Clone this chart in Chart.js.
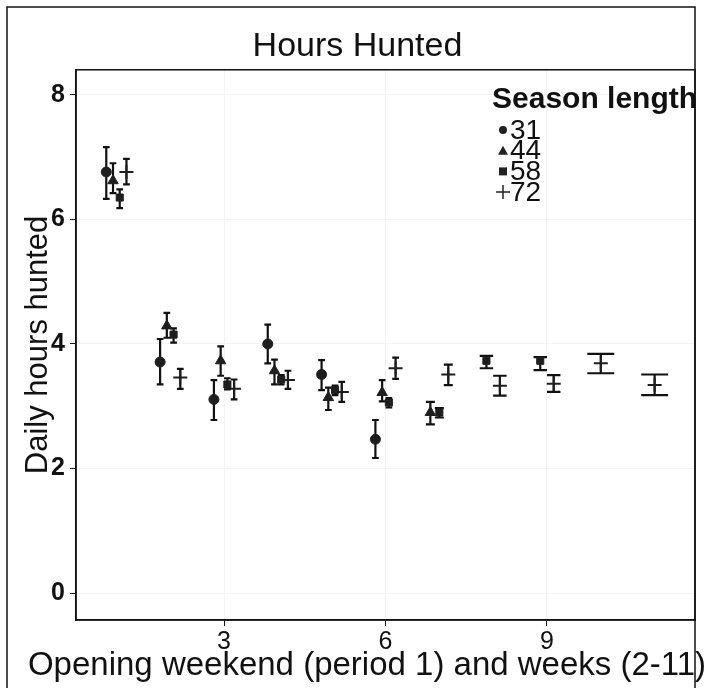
<!DOCTYPE html>
<html>
<head>
<meta charset="utf-8">
<script src="https://cdn.jsdelivr.net/npm/chart.js@4/dist/chart.umd.min.js"></script>
<style>
  html, body { margin: 0; padding: 0; background: #fff; }
  #wrap { width: 710px; height: 688px; }
</style>
</head>
<body>
<div id="wrap"><canvas id="hoursChart"></canvas></div>
<script>
// Season lengths (days) and the periods they cover
const seasons = ['31', '44', '58', '72'];
const periods = [1, 2, 3, 4, 5, 6, 7, 8, 9, 10, 11];

// Mean daily hours hunted per period, with error bar ends
const mean31 = [6.76, 3.71, 3.11, 4.00, 3.51, 2.47];
const low31  = [6.33, 3.35, 2.78, 3.69, 3.26, 2.17];
const high31 = [7.16, 4.08, 3.42, 4.31, 3.74, 2.78];

const mean44 = [6.62, 4.29, 3.73, 3.57, 3.14, 3.22, 2.90];
const low44  = [6.42, 4.10, 3.49, 3.35, 2.94, 3.08, 2.71];
const high44 = [6.90, 4.50, 3.96, 3.75, 3.30, 3.42, 3.07];

const mean58 = [6.35, 4.15, 3.35, 3.43, 3.26, 3.06, 2.90, 3.73, 3.73];
const low58  = [6.18, 4.02, 3.27, 3.35, 3.18, 2.98, 2.82, 3.61, 3.58];
const high58 = [6.48, 4.25, 3.45, 3.50, 3.33, 3.13, 2.97, 3.81, 3.79];

const mean72 = [6.76, 3.46, 3.28, 3.42, 3.23, 3.61, 3.51, 3.33, 3.36, 3.69, 3.34];
const low72  = [6.56, 3.28, 3.11, 3.28, 3.07, 3.44, 3.34, 3.17, 3.23, 3.53, 3.18];
const high72 = [6.97, 3.60, 3.43, 3.57, 3.39, 3.78, 3.67, 3.49, 3.50, 3.84, 3.51];

const xTicks = [3, 6, 9];
const yTicks = [0, 2, 4, 6, 8];
const xTitle = 'Opening weekend (period 1) and weeks (2-11)';

const means = [mean31, mean44, mean58, mean72];
const lows = [low31, low44, low58, low72];
const highs = [high31, high44, high58, high72];
const shapes = ['circle', 'triangle', 'rect', 'cross'];
const dodgeWidth = 0.5;

// like ggplot position_dodge: spread the series present in a period
function dodge(seriesIdx, p) {
  const present = means.map((m, i) => i).filter(i => means[i].length >= p);
  const n = present.length;
  const k = present.indexOf(seriesIdx);
  return { x: p + (k - (n - 1) / 2) * dodgeWidth / n, half: dodgeWidth / n / 2 };
}

const datasets = means.map((m, s) => ({
  label: seasons[s],
  data: m.map((v, i) => ({ x: dodge(s, periods[i]).x, y: v })),
  pointStyle: shapes[s],
  pointRadius: s === 3 ? 7 : (s === 1 ? 6 : 5),
  pointBorderWidth: s === 3 ? 2 : 1,
  pointBackgroundColor: '#1e1e1e',
  pointBorderColor: '#1e1e1e',
  showLine: false
}));

const errorBars = {
  id: 'errorBars',
  beforeDatasetsDraw(chart) {
    const { ctx, scales: { x, y } } = chart;
    ctx.save();
    ctx.strokeStyle = '#111';
    ctx.lineWidth = 2.2;
    means.forEach((m, s) => {
      m.forEach((v, i) => {
        const d = dodge(s, periods[i]);
        const px = x.getPixelForValue(d.x);
        const l = x.getPixelForValue(d.x - d.half);
        const r = x.getPixelForValue(d.x + d.half);
        const top = y.getPixelForValue(highs[s][i]);
        const bot = y.getPixelForValue(lows[s][i]);
        ctx.beginPath();
        ctx.moveTo(px, top); ctx.lineTo(px, bot);
        ctx.moveTo(l, top); ctx.lineTo(r, top);
        ctx.moveTo(l, bot); ctx.lineTo(r, bot);
        ctx.stroke();
      });
    });
    ctx.restore();
  }
};

const frame = {
  id: 'frame',
  afterDraw(chart) {
    const { ctx, chartArea: a } = chart;
    ctx.save();
    ctx.strokeStyle = '#111';
    ctx.lineWidth = 1.5;
    ctx.strokeRect(a.left, a.top, a.right - a.left, a.bottom - a.top);
    // outer picture border
    ctx.beginPath();
    ctx.moveTo(7, 688); ctx.lineTo(7, 7); ctx.lineTo(a.right, 7); ctx.lineTo(a.right, 688);
    ctx.stroke();

    // x axis title, a little left of the panel centre as in the source
    ctx.fillStyle = '#111';
    ctx.textAlign = 'center';
    ctx.textBaseline = 'middle';
    ctx.font = '33px "Liberation Sans", Arial, sans-serif';
    ctx.fillText(xTitle, 367, 666);

    // legend
    ctx.textAlign = 'left';
    ctx.font = 'bold 30px "Liberation Sans", Arial, sans-serif';
    ctx.fillText('Season length', 492, 100);
    ctx.font = '28px "Liberation Sans", Arial, sans-serif';
    seasons.forEach((lab, i) => {
      const cy = 130 + i * 20.7;
      const cx = 503;
      ctx.strokeStyle = '#222';
      ctx.fillStyle = '#222';
      ctx.lineWidth = 1.5;
      ctx.beginPath();
      if (shapes[i] === 'circle') {
        ctx.arc(cx, cy, 4, 0, Math.PI * 2); ctx.fill();
      } else if (shapes[i] === 'triangle') {
        ctx.moveTo(cx, cy - 5); ctx.lineTo(cx + 5, cy + 4); ctx.lineTo(cx - 5, cy + 4); ctx.closePath(); ctx.fill();
      } else if (shapes[i] === 'rect') {
        ctx.rect(cx - 4, cy - 4, 8, 8); ctx.fill();
      } else {
        ctx.moveTo(cx - 7, cy); ctx.lineTo(cx + 7, cy);
        ctx.moveTo(cx, cy - 7); ctx.lineTo(cx, cy + 7); ctx.stroke();
      }
      ctx.fillStyle = '#111';
      ctx.fillText(lab, 510, cy + 1);
    });
    ctx.restore();
  }
};

const ctx = document.getElementById('hoursChart').getContext('2d');
new Chart(ctx, {
  type: 'scatter',
  data: { datasets: datasets },
  options: {
    responsive: true,
    maintainAspectRatio: false,
    animation: false,
    layout: { padding: { left: 20, right: 15, top: 0, bottom: 0 } },
    scales: {
      x: {
        min: 0.25,
        max: 11.75,
        afterBuildTicks: scale => { scale.ticks = xTicks.map(v => ({ value: v })); },
        afterFit: scale => { scale.height = 68; },
        grid: { color: '#f3f3f3', tickColor: '#111', tickLength: 6 },
        border: { color: '#111', width: 1.5 },
        ticks: { color: '#111', padding: 1, font: { size: 25, family: '"Liberation Sans", Arial' } }
      },
      y: {
        min: -0.43,
        max: 8.4,
        afterBuildTicks: scale => { scale.ticks = yTicks.map(v => ({ value: v })); },
        afterFit: scale => { scale.width = 56; },
        grid: { color: '#f3f3f3', tickColor: '#111', tickLength: 6 },
        border: { color: '#111', width: 1.5 },
        ticks: { color: '#111', padding: 5, font: { size: 25, weight: 'bold', family: '"Liberation Sans", Arial' } },
        title: {
          display: true,
          text: 'Daily hours hunted',
          color: '#111',
          font: { size: 31, family: '"Liberation Sans", Arial' },
          padding: { top: 0, bottom: 0 }
        }
      }
    },
    plugins: {
      legend: { display: false },
      tooltip: { enabled: false },
      title: {
        display: true,
        text: 'Hours Hunted',
        color: '#111',
        font: { size: 34, weight: 'normal', family: '"Liberation Sans", Arial' },
        padding: { top: 26, bottom: 3 }
      }
    }
  },
  plugins: [errorBars, frame]
});
</script>
</body>
</html>
